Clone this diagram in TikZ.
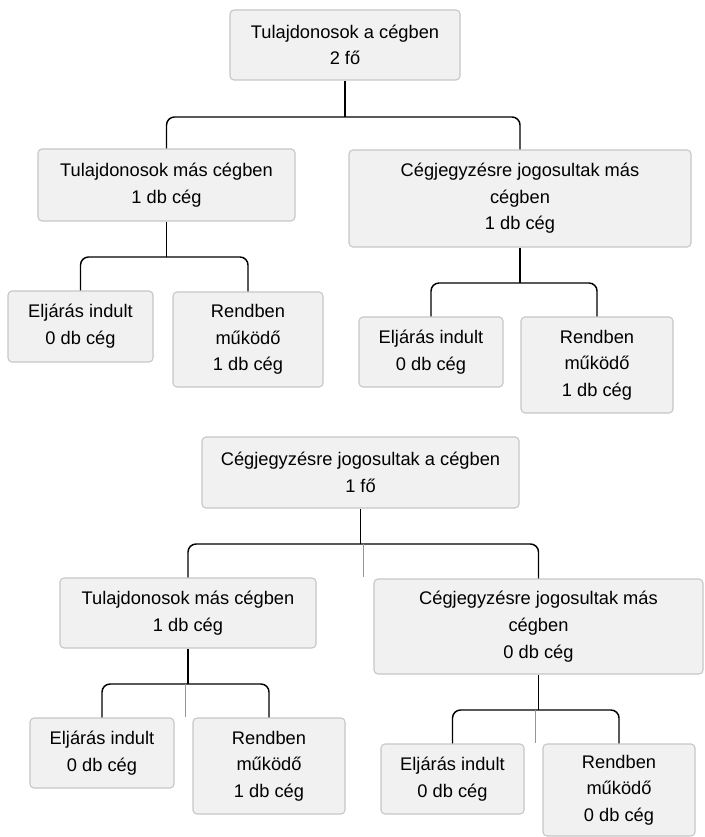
\documentclass[tikz,border=0pt]{standalone}
\usepackage{fontspec}
\setmainfont{Liberation Sans}
\usepackage{xcolor}
\usepackage{tikz}
\usetikzlibrary{calc}
\definecolor{BoxFill}{RGB}{241,241,241}
\definecolor{BoxEdge}{RGB}{198,198,198}
\definecolor{Seam}{RGB}{150,150,150}
\tikzset{
  orgbox/.style={draw=BoxEdge,fill=BoxFill,line width=0.8pt,rounded corners=3pt,
    inner sep=0pt,align=center,font=\fontsize{13.7}{20}\selectfont},
  link/.style={line width=1.1pt,black},
  seam/.style={line width=0.5pt,Seam}
}
\newcommand{\OrgBox}[6]{% name x1 y1 x2 y2 text
\node[orgbox,minimum width={(#4-#2)*0.75pt},minimum height={(#5-#3)*0.75pt}]
  (#1) at ({(#2+#4)/2},{(#3+#5)/2}) {#6};
}
\newcommand{\OrgLink}[4]{% parent left right bracket-y
\coordinate (#1-br) at (#1.south |- 0,#4);
\draw[link] (#1.south) -- (#1-br);
\draw[link,rounded corners=6pt] (#2.north) -- (#2.north |- #1-br) -- (#3.north |- #1-br) -- (#3.north);
\coordinate (#1-mid) at ($(#2.north |- #1-br)!0.5!(#3.north |- #1-br)$);
}

\begin{document}
\begin{tikzpicture}[x=0.75pt,y=-0.75pt]
\useasboundingbox (0,0) rectangle (704,837);
% first tree: owners
\OrgBox{own}{230}{10}{460}{80}{Tulajdonosok a cégben\\2 fő}
\OrgBox{ownA}{38}{149}{295}{221}{Tulajdonosok más cégben\\1 db cég}
\OrgBox{ownB}{349}{150}{691}{247}{Cégjegyzésre jogosultak más\\cégben\\1 db cég}
\OrgBox{ownAe}{8}{291}{153}{362}{Eljárás indult\\0 db cég}
\OrgBox{ownAr}{173}{292}{323}{387}{Rendben\\működő\\1 db cég}
\OrgBox{ownBe}{359}{317}{503}{387}{Eljárás indult\\0 db cég}
\OrgBox{ownBr}{521}{317}{673}{413}{Rendben\\működő\\1 db cég}
\OrgLink{own}{ownA}{ownB}{117}
\OrgLink{ownA}{ownAe}{ownAr}{257}
\OrgLink{ownB}{ownBe}{ownBr}{283}
% second tree: signatories
\OrgBox{sig}{202}{437}{519}{508}{Cégjegyzésre jogosultak a cégben\\1 fő}
\OrgBox{sigA}{60}{578}{316}{648}{Tulajdonosok más cégben\\1 db cég}
\OrgBox{sigB}{374}{579}{703}{674}{Cégjegyzésre jogosultak más\\cégben\\0 db cég}
\OrgBox{sigAe}{30}{718}{174}{788}{Eljárás indult\\0 db cég}
\OrgBox{sigAr}{193}{718}{345}{814}{Rendben\\működő\\1 db cég}
\OrgBox{sigBe}{381}{744}{524}{814}{Eljárás indult\\0 db cég}
\OrgBox{sigBr}{543}{744}{695}{836}{Rendben\\működő\\0 db cég}
\OrgLink{sig}{sigA}{sigB}{544}
\OrgLink{sigA}{sigAe}{sigAr}{684}
\OrgLink{sigB}{sigBe}{sigBr}{710}
% thin seams in the brackets
\draw[seam] (sig-mid) -- (sig-mid |- sigA.north);
\draw[seam] (sigA-mid) -- (sigA-mid |- sigAe.north);
\draw[seam] (sigB-mid) -- (sigB-mid |- sigBe.north);
\end{tikzpicture}
\end{document}
